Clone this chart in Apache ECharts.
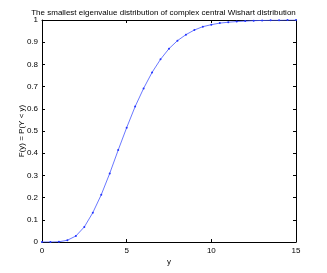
<!DOCTYPE html>
<html><head><meta charset="utf-8">
<script src="https://cdn.jsdelivr.net/npm/echarts@6/dist/echarts.min.js"></script>
<style>html,body{margin:0;padding:0;background:#fff}#c{width:327px;height:273px}</style>
</head><body><div id="c"></div>
<script>
const xValues = [0,0.5,1,1.5,2,2.5,3,3.5,4,4.5,5,5.5,6,6.5,7,7.5,8,8.5,9,9.5,10,10.5,11,11.5,12,12.5,13,13.5,14,14.5,15];
const cdfValues = [0,0,0.001,0.008,0.027,0.068,0.132,0.213,0.309,0.414,0.515,0.61,0.692,0.764,0.823,0.871,0.907,0.934,0.955,0.97,0.979,0.986,0.99,0.993,0.995,0.997,0.998,0.999,0.999,1,1];
const xTicks = [0,5,10,15];
const titleText = 'The smallest eigenvalue distribution of complex central Wishart distribution';
const xName = 'y';
const yName = 'F(y) = P(Y < y)';

const chart = echarts.init(document.getElementById('c'), null, {renderer:'canvas'});
const font = 'Liberation Sans';
const axLine = {show:true, onZero:false, lineStyle:{color:'#000', width:1}};
const tick = {inside:true, length:3, lineStyle:{color:'#000'}};
chart.setOption({
  animation:false,
  title:{text:titleText, left:'center', top:4, textStyle:{fontFamily:font, fontSize:8, fontWeight:'normal', color:'#000'}},
  grid:{left:42, right:31, top:20, bottom:31},
  xAxis:[{type:'value', min:0, max:15, interval:5, position:'bottom',
    axisLine:axLine, axisTick:tick,
    axisLabel:{fontFamily:font, fontSize:8, color:'#000', margin:5},
    splitLine:{show:false}, nameMoveOverlap:false,
    name:xName, nameLocation:'middle', nameGap:16, nameTextStyle:{fontFamily:font, fontSize:8, color:'#000'}},
   {type:'value', min:0, max:15, interval:5, position:'top',
    axisLine:axLine, axisTick:tick,
    axisLabel:{show:false}, splitLine:{show:false}}],
  yAxis:[{type:'value', min:0, max:1, interval:0.1, position:'left',
    axisLine:axLine, axisTick:tick,
    axisLabel:{fontFamily:font, fontSize:8, color:'#000', margin:4, formatter:v=>String(Math.round(v*10)/10)},
    splitLine:{show:false}, nameMoveOverlap:false,
    name:yName, nameLocation:'middle', nameGap:16, nameRotate:90, nameTextStyle:{fontFamily:font, fontSize:8, color:'#000'}},
   {type:'value', min:0, max:1, interval:0.1, position:'right',
    axisLine:axLine, axisTick:tick,
    axisLabel:{show:false}, splitLine:{show:false}}],
  series:[{type:'line', data:xValues.map((x,i)=>[x,cdfValues[i]]),
    lineStyle:{color:'#4455ff', width:0.8}, itemStyle:{color:'#2233ff'},
    symbol:'circle', symbolSize:2, showSymbol:true}]
});
</script></body></html>
